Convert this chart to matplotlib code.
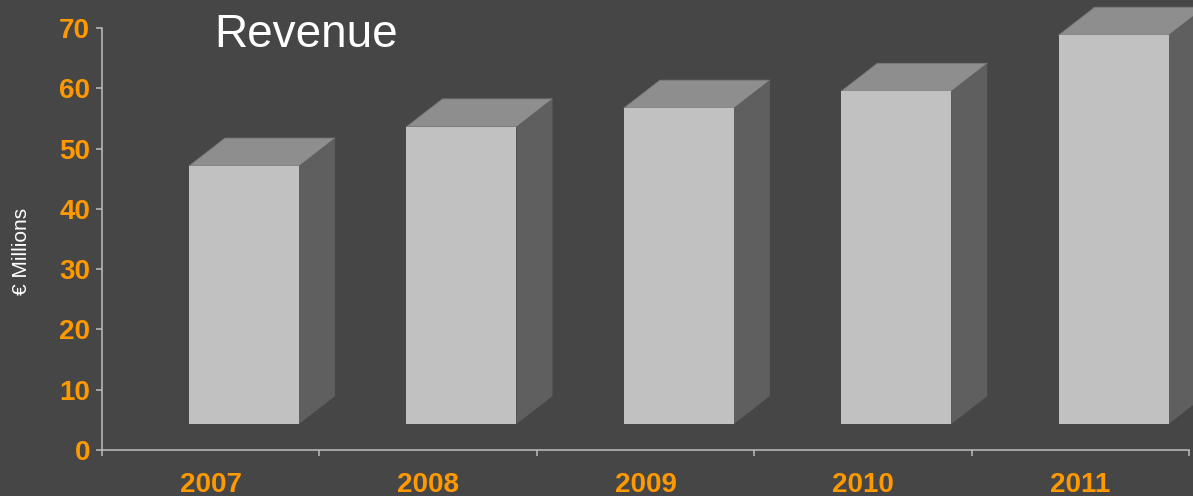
import matplotlib
matplotlib.use('Agg')
import matplotlib.pyplot as plt
from matplotlib.patches import Polygon
import numpy as np

years = ['2007', '2008', '2009', '2010', '2011']
revenue = [47.1, 53.6, 56.7, 59.5, 68.8]

# 3d look of the bars (style, not data)
floor = 4.3
bar_left = -0.10
bar_w = 0.506
depth_x = 0.166
depth_y = 4.64

bg = '#464646'
front_c = '#c1c1c1'
top_c = '#8e8e8e'
side_c = '#5f5f5f'
orange = '#ff9900'
axis_c = '#bdbdbd'

plt.rcParams['font.family'] = ['Liberation Sans', 'DejaVu Sans']

fig = plt.figure(figsize=(11.93, 4.96), dpi=100, facecolor=bg)
ax = fig.add_axes([102/1193, 46/496, 1087/1193, 422/496])
ax.set_facecolor(bg)

x = np.arange(len(years))
ax.bar(x + bar_left, np.array(revenue) - floor, bottom=floor, width=bar_w,
       align='edge', color=front_c, linewidth=0, clip_on=False, zorder=3)
for xi, v in zip(x, revenue):
    x0 = xi + bar_left
    x1 = x0 + bar_w
    top = Polygon([(x0, v), (x1, v), (x1 + depth_x, v + depth_y), (x0 + depth_x, v + depth_y)],
                  closed=True, facecolor=top_c, edgecolor='#7a7a7a', linewidth=0.6,
                  clip_on=False, zorder=2)
    side = Polygon([(x1, floor), (x1, v), (x1 + depth_x, v + depth_y), (x1 + depth_x, floor + depth_y)],
                   closed=True, facecolor=side_c, edgecolor='none', clip_on=False, zorder=2)
    ax.add_patch(top)
    ax.add_patch(side)

ax.set_xlim(-0.5, len(years) - 0.5)
ax.set_ylim(0, 70)
ax.set_yticks(range(0, 71, 10))
ax.set_xticks(np.arange(-0.5, len(years), 1.0))
ax.set_xticklabels([])
ax.set_xticks(x, minor=True)
ax.set_xticklabels(years, minor=True)

for s in ['top', 'right']:
    ax.spines[s].set_visible(False)
for s in ['left', 'bottom']:
    ax.spines[s].set_color(axis_c)
    ax.spines[s].set_linewidth(1.1)

ax.tick_params(axis='y', colors=axis_c, labelcolor=orange, length=4.5, width=1.1,
               labelsize=20, pad=4)
ax.tick_params(axis='x', which='major', colors=axis_c, length=4.5, width=1.1)
ax.tick_params(axis='x', which='minor', length=0, labelcolor=orange, labelsize=20, pad=15.5)
for lab in ax.get_yticklabels() + ax.get_xticklabels(minor=True):
    lab.set_fontweight('bold')

fig.text(214/1193, 1 - 35/496, 'Revenue', color='white', fontsize=33, va='center', ha='left')
fig.text(22/1193, 1 - 251/496, '€ Millions', color='white', fontsize=15, rotation=90,
         va='center', ha='center')

fig.savefig('out.png', dpi=100, facecolor=bg)
